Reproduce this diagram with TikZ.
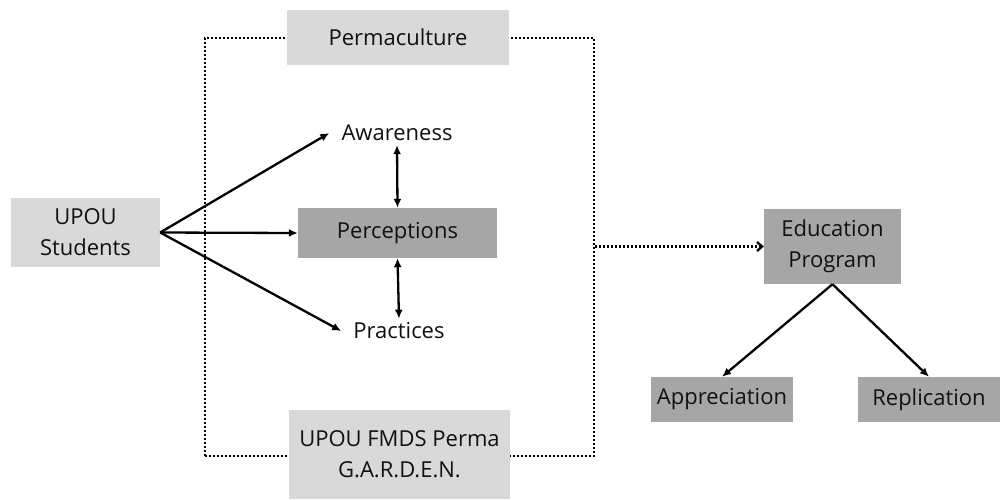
\documentclass[tikz,border=0pt]{standalone}
\usepackage{fontspec}
\setmainfont{Open Sans}
\usetikzlibrary{positioning,arrows.meta}
\definecolor{lightbox}{HTML}{D9D9D9}
\definecolor{darkbox}{HTML}{A6A6A6}
\definecolor{textgray}{HTML}{111111}

\begin{document}
\begin{tikzpicture}[x=1pt, y=-1pt,
    lbox/.style={fill=lightbox, text=textgray, align=center, inner sep=0pt},
    dbox/.style={fill=darkbox, text=textgray, align=center, inner sep=0pt},
    lbl/.style={text=textgray, inner xsep=12pt, inner ysep=4pt},
    arr/.style={line width=2.3pt, -{Latex[length=9pt,width=8pt]}},
    darr/.style={line width=2.3pt, {Latex[length=9pt,width=8pt]}-{Latex[length=9pt,width=8pt]}},
    dotline/.style={line width=2.4pt, dash pattern=on 2pt off 2pt},
    font=\fontsize{22}{31}\selectfont]
  \useasboundingbox (0,0) rectangle (1000,499);
  \node[dotline, draw, minimum width=389, minimum height=418] (frame) at (399.5,247) {};
  \node[lbox, minimum width=222, minimum height=55] (perm) at (398,37) {Permaculture};
  \node[lbox, minimum width=221, minimum height=89] (garden) at (399.5,454.5) {UPOU FMDS Perma\\G.A.R.D.E.N.};
  \node[lbox, minimum width=149, minimum height=69] (students) at (85.5,232.5) {UPOU\\Students};
  \node[dbox, minimum width=199, minimum height=50] (perc) at (397.5,233) {Perceptions};
  \node[lbl] (aware) at (397,133) {Awareness};
  \node[lbl] (pract) at (399,331) {Practices};
  \node[dbox, minimum width=137, minimum height=75] (edu) at (832.5,246.5) {Education\\Program};
  \node[dbox, minimum width=142, minimum height=45] (appr) at (722,399.5) {Appreciation};
  \node[dbox, minimum width=142, minimum height=45] (repl) at (929,399.5) {Replication};

  \foreach \t in {aware,perc,pract}
    \draw[arr] (students.east) -- (\t.west);
  \draw[darr] (aware.south) -- (perc.north);
  \draw[darr] (perc.south) -- (pract.north);
  \draw[dotline, -{Straight Barb[length=5pt,width=9pt]}] (frame.east |- edu.west) -- (edu.west);
  \draw[arr] (edu.south) -- (appr.north);
  \draw[arr] (edu.south) -- (repl.north);
\end{tikzpicture}
\end{document}
